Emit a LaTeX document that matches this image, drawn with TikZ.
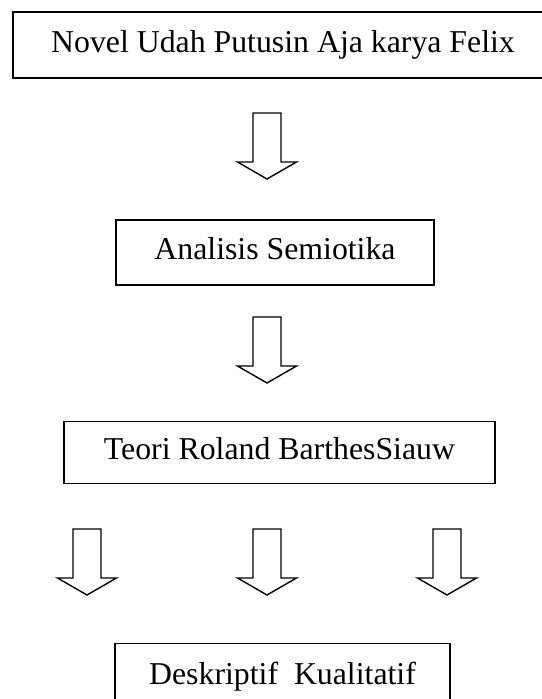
\documentclass[tikz,border=0pt]{standalone}
\usepackage{fontspec}
\setmainfont{Liberation Serif}
\begin{document}
\begin{tikzpicture}[x=1pt,y=-1pt,
  font=\fontsize{31.8}{38}\selectfont,
  box/.style={draw, line width=1.5pt, inner sep=0pt,
    text height=21.7pt, text depth=6.9pt},
  arrowline/.style={draw, line width=1.4pt, line join=miter},
  blockarrow/.pic={
    \path[arrowline] (-14,0) -- (14,0) -- (14,49) -- (29.5,49)
      -- (0,66) -- (-29.5,49) -- (-14,49) -- cycle;
  }]
\useasboundingbox (0,0) rectangle (541,699);

% boxes of the flow
\node[box, minimum width=540pt, minimum height=66pt] (novel) at (283,45)
  {Novel Udah Putusin Aja karya Felix};
\node[box, minimum width=318pt, minimum height=65pt] (analisis) at (275,252.5)
  {Analisis Semiotika};
\node[box, minimum width=431pt, minimum height=62pt] (teori) at (279.5,452.5)
  {Teori Roland BarthesSiauw};
\node[box, minimum width=335pt, minimum height=67pt] (deskriptif) at (282.5,677)
  {Deskriptif\ \ Kualitatif};

% block arrows between the boxes
\coordinate (a1) at (267,113);
\coordinate (a2) at (267,317);
\coordinate (b1) at (87,529);
\coordinate (b2) at (267,529);
\coordinate (b3) at (447,529);
\pic at (a1) {blockarrow};
\pic at (a2) {blockarrow};
\pic at (b1) {blockarrow};
\pic at (b2) {blockarrow};
\pic at (b3) {blockarrow};
\end{tikzpicture}
\end{document}
